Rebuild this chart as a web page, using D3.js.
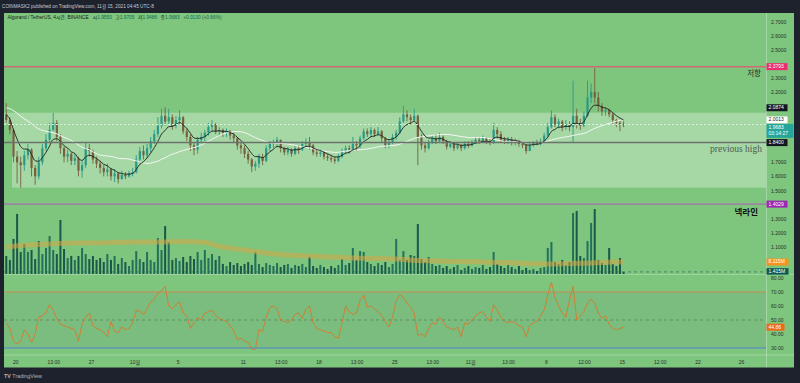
<!DOCTYPE html>
<html><head><meta charset="utf-8">
<script src="https://cdn.jsdelivr.net/npm/d3@7"></script>
<style>html,body{margin:0;padding:0;background:#1e222d;}svg{display:block}</style>
</head><body>
<svg id="c" width="800" height="383"></svg>
<script>
// ---------------- DATA (8-hour candles, Sep 19 00:00 UTC .. Nov 15 00:00 UTC) ----------------
const firstOpen = 2.04;
const closes = [
2.00,1.93,1.74,1.70,1.68,1.75,1.79,1.66,1.60,1.70,
1.80,1.86,1.93,1.98,1.88,1.80,1.74,1.76,1.71,1.73,
1.64,1.68,1.80,1.78,1.72,1.69,1.66,1.63,1.65,1.60,
1.62,1.58,1.61,1.60,1.62,1.63,1.72,1.78,1.75,1.80,
1.85,1.90,1.96,2.03,1.99,2.02,1.96,2.00,2.02,1.92,
1.88,1.82,1.79,1.86,1.88,1.91,1.95,1.97,1.92,1.93,
1.91,1.92,1.89,1.87,1.82,1.80,1.76,1.72,1.67,1.69,
1.74,1.71,1.80,1.83,1.84,1.86,1.80,1.77,1.79,1.76,
1.80,1.79,1.83,1.84,1.82,1.77,1.76,1.77,1.74,1.73,
1.72,1.71,1.74,1.78,1.80,1.79,1.83,1.82,1.87,1.92,
1.90,1.93,1.90,1.92,1.87,1.82,1.84,1.88,1.91,1.99,
2.04,2.02,2.00,2.03,1.88,1.82,1.80,1.84,1.87,1.85,
1.88,1.85,1.81,1.83,1.80,1.82,1.80,1.83,1.82,1.84,
1.86,1.85,1.87,1.85,1.84,1.93,1.90,1.86,1.85,1.86,
1.84,1.85,1.83,1.82,1.78,1.82,1.84,1.83,1.85,1.89,
1.95,2.02,1.97,1.99,1.95,1.97,1.95,2.03,1.98,1.96,
2.03,2.16,2.20,2.16,2.10,2.06,2.07,2.04,2.00,1.98,
1.97,1.9683];
const highs = [
2.12,2.02,1.94,1.78,1.74,1.78,1.83,1.80,1.68,1.74,
1.83,1.90,1.98,2.05,2.00,1.90,1.81,1.79,1.77,1.76,
1.74,1.71,1.84,1.83,1.79,1.74,1.71,1.68,1.69,1.66,
1.65,1.63,1.64,1.63,1.64,1.66,1.75,1.81,1.82,1.83,
1.88,1.93,2.02,2.08,2.09,2.08,2.04,2.03,2.07,2.03,
1.94,1.90,1.84,1.88,1.91,1.93,1.98,2.00,1.98,1.95,
1.94,1.94,1.93,1.91,1.88,1.84,1.82,1.78,1.73,1.71,
1.76,1.76,1.82,1.85,1.86,1.88,1.86,1.81,1.81,1.80,
1.82,1.82,1.85,1.87,1.88,1.83,1.79,1.79,1.78,1.76,
1.75,1.74,1.76,1.80,1.82,1.82,1.88,1.85,1.89,1.94,
1.94,1.95,1.94,1.95,1.93,1.88,1.86,1.90,1.93,2.02,
2.10,2.07,2.04,2.08,2.04,1.90,1.84,1.86,1.89,1.90,
1.91,1.89,1.86,1.85,1.84,1.84,1.83,1.85,1.85,1.86,
1.88,1.88,1.89,1.88,1.87,1.98,1.95,1.92,1.88,1.88,
1.88,1.87,1.86,1.85,1.83,1.84,1.85,1.86,1.87,1.91,
1.98,2.07,2.04,2.01,2.00,2.00,1.99,2.28,2.08,2.01,
2.06,2.28,2.26,2.37,2.20,2.12,2.09,2.08,2.05,2.01,
2.00,1.99];
const lows = [
1.98,1.90,1.70,1.55,1.52,1.64,1.72,1.60,1.54,1.58,
1.68,1.78,1.84,1.92,1.85,1.76,1.70,1.70,1.68,1.68,
1.60,1.59,1.66,1.74,1.69,1.66,1.62,1.60,1.60,1.57,
1.56,1.55,1.58,1.58,1.59,1.60,1.62,1.70,1.72,1.73,
1.77,1.83,1.88,1.94,1.96,1.97,1.93,1.94,1.97,1.90,
1.85,1.78,1.75,1.76,1.84,1.85,1.89,1.92,1.90,1.89,
1.88,1.88,1.86,1.84,1.79,1.76,1.73,1.69,1.63,1.64,
1.66,1.68,1.70,1.78,1.80,1.81,1.77,1.75,1.75,1.74,
1.75,1.76,1.78,1.80,1.79,1.75,1.74,1.74,1.72,1.71,
1.70,1.69,1.70,1.73,1.76,1.76,1.78,1.78,1.80,1.86,
1.88,1.88,1.88,1.89,1.84,1.80,1.80,1.83,1.86,1.90,
1.98,1.99,1.97,1.99,1.68,1.79,1.77,1.79,1.83,1.83,
1.84,1.83,1.79,1.80,1.78,1.79,1.78,1.79,1.80,1.81,
1.83,1.83,1.84,1.83,1.82,1.83,1.87,1.84,1.83,1.83,
1.82,1.82,1.81,1.80,1.76,1.78,1.81,1.82,1.82,1.84,
1.88,1.94,1.95,1.94,1.92,1.93,1.92,1.84,1.94,1.93,
1.95,2.02,2.12,2.12,2.06,2.03,2.03,2.02,1.97,1.95,
1.92,1.95];
// volume, millions
const volumes = [
12.2,9.5,23.7,40.6,14.9,20.3,14.9,16.2,10.1,22.3,
13.5,17.6,25.7,16.2,13.5,36.5,16.9,10.8,12.2,9.5,
12.2,17.6,13.5,10.1,12.2,9.5,10.8,8.1,13.5,9.5,
12.2,6.8,10.8,8.1,5.4,9.5,15.5,10.1,8.1,14.9,
9.5,8.1,24.3,16.2,32.4,21.6,9.5,10.8,8.8,11.5,
8.1,12.2,10.1,14.9,9.5,16.2,10.8,13.5,9.5,12.2,
6.8,5.4,8.1,6.1,7.4,5.4,6.8,8.1,6.1,14.9,
6.8,4.7,7.4,6.1,5.4,7.4,4.7,6.1,6.8,4.1,
6.1,5.4,6.8,4.7,11.5,5.4,4.1,6.1,4.7,3.4,
5.4,4.1,6.1,10.1,6.1,7.4,17.6,9.5,15.5,14.9,
8.1,6.8,5.4,7.4,6.1,8.1,4.7,6.8,23.7,9.5,
15.5,9.5,12.8,12.2,33.8,10.1,8.1,11.5,6.8,5.4,
6.1,4.1,5.4,3.4,4.7,6.1,2.7,4.1,5.4,3.4,
4.7,4.1,6.1,3.4,4.7,14.9,6.8,5.4,4.1,6.1,
4.7,3.4,5.4,2.7,4.1,2.7,3.4,2.0,4.1,4.7,
17.6,21.6,8.1,6.8,9.5,6.1,8.1,41.2,42.6,12.2,
10.8,22.3,34.5,43.9,9.5,7.4,6.1,17.6,6.8,5.4,
10.8,1.415];
// volume moving average, at candle indices volMaAt
const volMaAt = [0,6,12,18,24,30,36,42,48,54,60,66,72,78,84,90,96,102,108,114,120,126,132,138,144,150,156,162,168,171];
const volMa   = [18.2,19.6,20.3,20.9,20.9,21.3,21.6,21.6,22.0,21.6,18.2,16.2,14.2,12.8,12.2,11.5,10.8,10.5,10.1,9.1,8.8,8.4,8.1,7.8,7.1,6.8,7.1,7.4,8.1,8.115];
const rsi = [
48,44,35,33,35,43,40,34,40,52,
53,55,61,57,51,47,46,45,44,43,
35,47,52,55,46,44,43,41,38,49,
42,41,45,43,44,48,57,56,54,58,
63,65,69,71,74,60,58,61,63,55,
53,44,48,52,50,55,56,57,53,51,
50,49,46,42,36,37,35,34,29,29,
43,42,52,59,60,58,50,49,48,50,
54,55,51,58,60,48,44,43,42,41,
41,38,37,48,60,56,54,55,64,68,
59,60,58,56,53,49,45,52,64,68,
66,62,59,55,39,40,38,44,48,47,
52,49,45,44,43,45,38,48,47,50,
53,55,56,52,49,61,57,52,49,48,
49,48,46,45,38,46,48,49,53,57,
68,77,66,60,55,52,64,74,50,53,
56,62,65,62,55,51,53,47,44,43,
44,44.86];
// closes before the first visible candle (warm-up for the moving averages)
const priorCloses = [2.05,2.10,2.16,2.20,2.22,2.18,2.12,2.15,2.10,2.05,2.02,2.06,2.10,2.08,2.12,2.05,2.00,2.03,2.08,2.10,2.06,2.04,2.02,2.06];

const priceTicks = [1.0,1.1,1.2,1.3,1.4,1.5,1.6,1.7,1.8,1.9,2.0,2.1,2.2,2.3,2.4,2.5,2.6,2.7];
const rsiTicks = [30,40,50,60,70,80];
const timeTickDays = [0,3.5,7,11,15,21,24.5,28,31.5,35,38.5,42,45.5,49,52.5,56,59.5,63,67];
const timeTickLabels = ["20","13:00","27","10월","5","11","13:00","18","13:00","25","13:00","11월","13:00","8","12:00","15","12:00","22","26"];

const resistance = 2.3793, prevHigh = 1.8400, neckline = 1.4029;
const boxTop = 2.052, boxBottom = 1.520;
const lastPrice = 1.9683, markA = 2.0874, markB = 2.0013;
const legendOHLC = [['시','1.9550'],['고','1.9705'],['저','1.9486'],['종','1.9683']];

// ---------------- LAYOUT ----------------
const FONT = "'Liberation Sans','Noto Sans CJK KR',sans-serif";
const svg = d3.select('#c').attr('font-family',FONT);
const L=4, R=766, AXR=794, TOP=13, BOT=367.5;
const P1B=274.5, P2T=274.5, P2B=355;
const GREEN='#7ec57e', LIGHT='#a6d8a5';

const HOUR=3600e3, DAY=24*HOUR;
const t0 = Date.UTC(2021,8,19);
const x = d3.scaleUtc().domain([new Date(Date.UTC(2021,8,20)), new Date(Date.UTC(2021,10,15))]).range([15.3, 621.8]);
const cx = i => x(new Date(t0 + i*8*HOUR + 4*HOUR));
const y = d3.scaleLinear().domain([1.5,2.7]).range([190.46,21.5]);
const yv = d3.scaleLinear().domain([0,44]).range([274,208.9]);
const yr = d3.scaleLinear().domain([30,70]).range([348,292]);

// background
svg.append('rect').attr('x',0).attr('y',0).attr('width',800).attr('height',383).attr('fill','#1e222d');
svg.append('rect').attr('x',L).attr('y',TOP).attr('width',AXR-L).attr('height',BOT-TOP).attr('fill',GREEN);

const defs = svg.append('defs');
defs.append('clipPath').attr('id','p1').append('rect').attr('x',L).attr('y',TOP).attr('width',R-L).attr('height',P1B-TOP);
defs.append('clipPath').attr('id','p2').append('rect').attr('x',L).attr('y',P2T).attr('width',R-L).attr('height',P2B-P2T);

const g1 = svg.append('g').attr('clip-path','url(#p1)');
g1.append('rect').attr('x',12).attr('y',y(boxTop)).attr('width',R-12).attr('height',y(boxBottom)-y(boxTop)).attr('fill',LIGHT);
g1.append('rect').attr('x',L).attr('y',y(boxTop)).attr('width',8).attr('height',y(1.97)-y(boxTop)).attr('fill',LIGHT);

const candles = closes.map((c,i)=>{
  const o = i===0 ? firstOpen : closes[i-1];
  return {i, o, c, h: Math.max(highs[i],o,c), l: Math.min(lows[i],o,c), v: volumes[i]};
});

// volume bars
g1.append('g').selectAll('rect').data(candles).join('rect')
  .attr('x', d=>cx(d.i)-1).attr('width',2)
  .attr('y', d=>yv(d.v)).attr('height', d=>yv(0)-yv(d.v))
  .attr('fill', d=> d.c>=d.o ? '#24715b' : '#1a5849');
const lastVol = volumes[volumes.length-1];
g1.append('line').attr('x1',L).attr('x2',R).attr('y1',yv(lastVol)).attr('y2',yv(lastVol))
  .attr('stroke','#2f6f5c').attr('stroke-dasharray','3,3').attr('stroke-width',1).attr('opacity',0.7);
g1.append('path').datum(volMaAt.map((k,j)=>[cx(k), yv(volMa[j])]))
  .attr('d', d3.line().curve(d3.curveMonotoneX))
  .attr('fill','none').attr('stroke','rgba(215,165,70,0.55)').attr('stroke-width',5);

// candles
const cg = g1.append('g');
cg.selectAll('line').data(candles).join('line')
  .attr('x1',d=>cx(d.i)).attr('x2',d=>cx(d.i))
  .attr('y1',d=>y(d.h)).attr('y2',d=>y(d.l))
  .attr('stroke',d=>d.c>=d.o?'#2a9a87':'#77603f').attr('stroke-width',0.9);
cg.selectAll('rect').data(candles).join('rect')
  .attr('x',d=>cx(d.i)-1.1).attr('width',2.2)
  .attr('y',d=>y(Math.max(d.o,d.c)))
  .attr('height',d=>Math.max(0.8, Math.abs(y(d.o)-y(d.c))))
  .attr('fill',d=>d.c>=d.o?'#2a9a87':'#77603f');

// moving averages computed from the closes
const allC = priorCloses.concat(closes), off = priorCloses.length;
const slowLen = 25, fastLen = 6;
const slow = closes.map((c,i)=> d3.mean(allC.slice(off+i-slowLen+1, off+i+1)));
let e = allC[0]; const kf = 2/(fastLen+1);
const fast = allC.map(v=> (e = e + kf*(v-e))).slice(off);
const ln = d3.line().curve(d3.curveMonotoneX);
g1.append('path').datum(slow.map((v,i)=>[cx(i),y(v)])).attr('d',ln).attr('fill','none').attr('stroke','#f4f6f4').attr('stroke-width',1);
g1.append('path').datum(fast.map((v,i)=>[cx(i),y(v)])).attr('d',ln).attr('fill','none').attr('stroke','#1c1c1c').attr('stroke-width',0.9);

// horizontal drawings
const hline = (p,col,w,dash)=> g1.append('line').attr('x1',L).attr('x2',R).attr('y1',y(p)).attr('y2',y(p))
  .attr('stroke',col).attr('stroke-width',w).attr('stroke-dasharray',dash||null);
hline(resistance,'#cd6b72',1.5);
hline(prevHigh,'#6d716d',1.5);
hline(neckline,'#9a86a0',1.6);
hline(lastPrice,'#d9efe2',1,'2,2');

svg.append('text').attr('x',761).attr('y',y(resistance)+9.5).attr('text-anchor','end')
  .attr('font-size',7.5).attr('fill','#2a2a2a').attr('font-family','Noto Sans CJK KR').text('저항');
svg.append('text').attr('x',762).attr('y',y(prevHigh)+9).attr('text-anchor','end')
  .attr('font-size',9.5).attr('fill','#505a50').attr('font-family',"'Liberation Serif',serif").text('previous high');
svg.append('text').attr('x',758).attr('y',y(neckline)+10.5).attr('text-anchor','end')
  .attr('font-size',8.5).attr('font-weight','bold').attr('fill','#111').attr('font-family','Noto Sans CJK KR').text('넥라인');

// ---------------- RSI pane ----------------
const g2 = svg.append('g').attr('clip-path','url(#p2)');
g2.append('rect').attr('x',L).attr('y',yr(70)).attr('width',R-L).attr('height',yr(30)-yr(70)).attr('fill','rgba(90,70,130,0.06)');
g2.append('line').attr('x1',L).attr('x2',R).attr('y1',yr(70)).attr('y2',yr(70)).attr('stroke','#c98a55').attr('stroke-width',1);
g2.append('line').attr('x1',L).attr('x2',R).attr('y1',yr(30)).attr('y2',yr(30)).attr('stroke','#5082d2').attr('stroke-width',1);
g2.append('line').attr('x1',L).attr('x2',R).attr('y1',yr(50)).attr('y2',yr(50)).attr('stroke','#5e8e5e').attr('stroke-width',1).attr('stroke-dasharray','3,3');
g2.append('path').datum(rsi.map((v,i)=>[cx(i),yr(v)])).attr('d',d3.line())
  .attr('fill','none').attr('stroke','#d9782b').attr('stroke-width',0.9);

// separators
svg.append('line').attr('x1',L).attr('x2',AXR).attr('y1',P1B).attr('y2',P1B).attr('stroke','rgba(255,255,255,0.25)');
svg.append('line').attr('x1',L).attr('x2',AXR).attr('y1',P2B).attr('y2',P2B).attr('stroke','rgba(255,255,255,0.3)');
svg.append('line').attr('x1',R+0.5).attr('x2',R+0.5).attr('y1',TOP).attr('y2',BOT).attr('stroke','rgba(255,255,255,0.3)');

// ---------------- axis price tags (stacked so they do not overlap) ----------------
const fs = 5.0, axCol = '#263026';
const tags = [
  {yy:y(resistance), txt:d3.format('.4f')(resistance), fill:'#ec2d6e', col:'#fff', w:21, h:7},
  {yy:y(markA), txt:d3.format('.4f')(markA), fill:'#131722', col:'#fff', w:21, h:7},
  {yy:y(markB), txt:d3.format('.4f')(markB), fill:'#ffffff', col:'#131722', w:21, h:7},
  {yy:y(lastPrice)+3.5, txt:d3.format('.4f')(lastPrice), txt2:'03:14:27', fill:'#26a69a', col:'#fff', w:27, h:14},
  {yy:y(prevHigh), txt:d3.format('.4f')(prevHigh), fill:'#131722', col:'#fff', w:21, h:7},
  {yy:y(neckline), txt:d3.format('.4f')(neckline), fill:'#9c27b0', col:'#fff', w:21, h:7},
  {yy:yv(volMa[volMa.length-1]), txt:'8.115M', fill:'#f7931e', col:'#fff', w:22, h:7},
  {yy:yv(lastVol)-0.5, txt:'1.415M', fill:'#0e5a50', col:'#fff', w:22, h:6.5},
  {yy:yr(rsi[rsi.length-1]), txt:d3.format('.2f')(rsi[rsi.length-1]), fill:'#ee6a1b', col:'#fff', w:18, h:7}
].sort((a,b)=>a.yy-b.yy);
tags.forEach(t=>{t.top=t.yy-t.h/2;});
for(let k=1;k<tags.length;k++){
  const prevBottom = tags[k-1].top + tags[k-1].h + 0.5;
  if(tags[k].top < prevBottom) tags[k].top = prevBottom;
}
const hidden = v => tags.some(t=> v > t.top-3 && v < t.top+t.h+3);

const pa = svg.append('g').attr('transform',`translate(${R},0)`)
  .call(d3.axisRight(y).tickValues(priceTicks.filter(v=>!hidden(y(v)))).tickFormat(d3.format('.4f')).tickSize(0).tickPadding(5));
const ra = svg.append('g').attr('transform',`translate(${R},0)`)
  .call(d3.axisRight(yr).tickValues(rsiTicks.filter(v=>!hidden(yr(v)))).tickFormat(d3.format('.2f')).tickSize(0).tickPadding(5));
const ta = svg.append('g').attr('transform',`translate(0,${P2B+2})`)
  .call(d3.axisBottom(x).tickValues(timeTickDays.map(d=>new Date(Date.UTC(2021,8,20)+d*DAY))).tickFormat((d,i)=>timeTickLabels[i]).tickSize(0).tickPadding(3));
[pa,ra,ta].forEach(a=>{a.select('.domain').remove(); a.selectAll('text').attr('font-size',fs).attr('fill',axCol).attr('font-family',FONT);});

tags.forEach(t=>{
  const gg = svg.append('g');
  gg.append('rect').attr('x',R+0.5).attr('y',t.top).attr('width',t.w).attr('height',t.h).attr('fill',t.fill);
  gg.append('text').attr('x',R+2.5).attr('y',t.top+3.6).attr('dominant-baseline','middle').attr('font-size',fs).attr('fill',t.col).text(t.txt);
  if(t.txt2) gg.append('text').attr('x',R+2.5).attr('y',t.top+10.2).attr('dominant-baseline','middle').attr('font-size',fs).attr('fill',t.col).text(t.txt2);
});

// ---------------- HEADER / LEGEND ----------------
svg.append('text').attr('x',2).attr('y',7.5).attr('font-size',4.7).attr('fill','#c9ccd4')
  .text('COINMASK2 published on TradingView.com, 11월 15, 2021 04:45 UTC-8');
const lg = svg.append('text').attr('x',7.5).attr('y',19.3).attr('font-size',4.8).attr('fill','#18201a');
lg.append('tspan').text('Algorand / TetherUS, 4시간, BINANCE');
legendOHLC.forEach(([k,v],j)=>{
  lg.append('tspan').attr('dx', j===0?4:3.5).attr('fill','#18201a').text(k);
  lg.append('tspan').attr('fill','#0f6a52').text(v);
});
lg.append('tspan').attr('dx',3.5).attr('fill','#0f6a52').text('+0.0130 (+0.66%)');

// footer
svg.append('text').attr('x',4).attr('y',377.5).attr('font-size',5.4).attr('fill','#b2b5be')
  .html('<tspan font-weight="bold">TV</tspan> TradingView');
</script>
</body></html>
